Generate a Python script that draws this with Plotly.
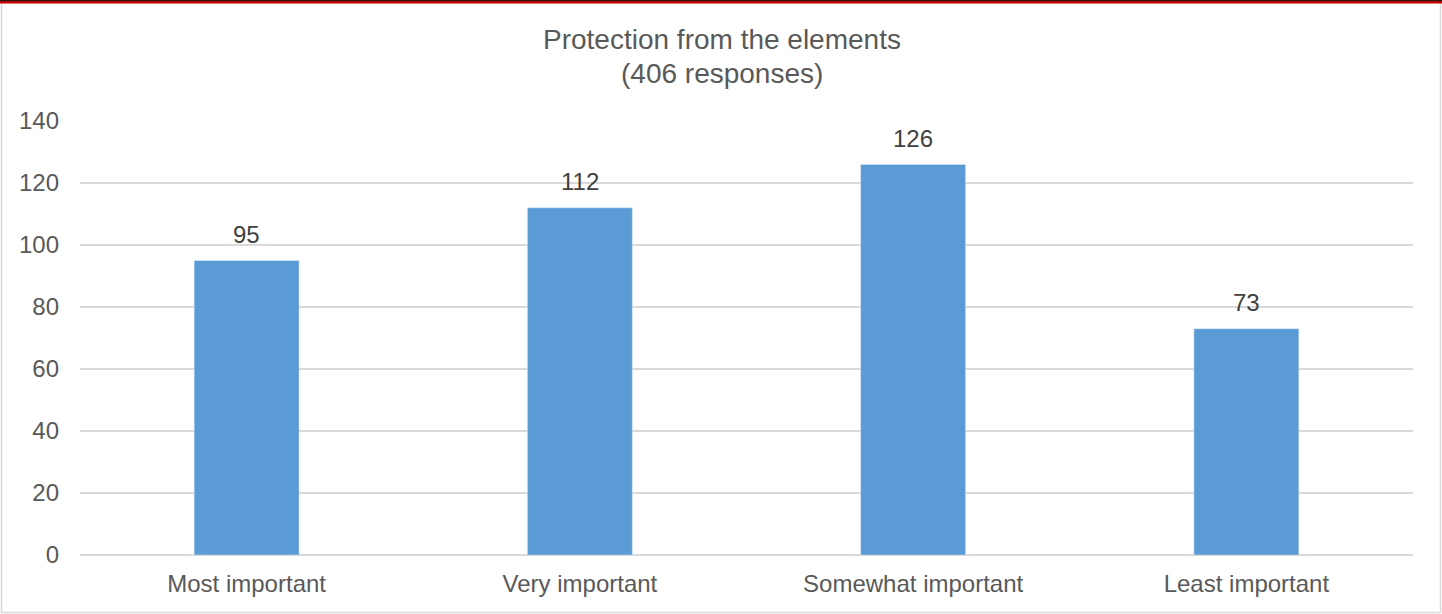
import plotly.graph_objects as go

categories = ["Most important", "Very important", "Somewhat important", "Least important"]
values = [95, 112, 126, 73]
title_line1 = "Protection from the elements"
title_line2 = "(406 responses)"
y_ticks = [0, 20, 40, 60, 80, 100, 120, 140]

W, H = 1442, 614
L, R, T, B = 80, 29, 121, 59
PW, PH = W - L - R, H - T - B

def px_x(px):
    return (px - L) / PW

def px_y(py):
    return (H - B - py) / PH

FONT = "Liberation Sans, Arial, sans-serif"
TXT = "#595959"

fig = go.Figure()
fig.add_trace(go.Bar(
    x=categories, y=values, marker_color="#5B9BD5", width=0.315,
    hoverinfo="x+y",
))

label_annotations = [
    dict(x=c, y=v, xref="x", yref="y", text=str(v), showarrow=False,
         xanchor="center", yanchor="middle", yshift=26,
         font=dict(family=FONT, size=24, color="#404040"))
    for c, v in zip(categories, values)
]

fig.update_layout(
    width=W, height=H,
    margin=dict(l=L, r=R, t=T, b=B),
    paper_bgcolor="white", plot_bgcolor="white",
    showlegend=False,
    font=dict(family=FONT, color=TXT),
    xaxis=dict(showgrid=False, showline=False, zeroline=False, ticks="",
               tickfont=dict(size=24, color=TXT), ticklabelstandoff=12),
    yaxis=dict(range=[0, 140], tickvals=y_ticks, showgrid=True, gridcolor="#D9D9D9",
               gridwidth=1.5, zeroline=True, zerolinecolor="#D9D9D9", zerolinewidth=1.5,
               showline=False, ticks="", tickfont=dict(size=24, color=TXT),
               ticklabelstandoff=20),
    shapes=[
        dict(type="rect", xref="paper", yref="paper", x0=px_x(1.5), x1=px_x(1440.5),
             y0=px_y(612.5), y1=px_y(1), line=dict(color="#D9D9D9", width=1.5),
             fillcolor="rgba(0,0,0,0)", layer="below"),
        dict(type="rect", xref="paper", yref="paper", x0=px_x(0), x1=px_x(1442),
             y0=px_y(3.5), y1=px_y(0), line=dict(width=0), fillcolor="#C00000"),
        dict(type="line", xref="paper", yref="paper", x0=px_x(0), x1=px_x(1442),
             y0=px_y(0.5), y1=px_y(0.5), line=dict(color="#1a1a1a", width=1)),
    ],
    annotations=[
        dict(text=title_line1, xref="paper", yref="paper", x=px_x(722), y=px_y(40),
             xanchor="center", yanchor="middle", showarrow=False,
             font=dict(family=FONT, size=28, color=TXT)),
        dict(text=title_line2, xref="paper", yref="paper", x=px_x(722), y=px_y(73),
             xanchor="center", yanchor="middle", showarrow=False,
             font=dict(family=FONT, size=28, color=TXT)),
    ] + label_annotations,
)

fig.write_html("out.html", config={"displayModeBar": False},
               post_script="document.body.style.margin='0';document.body.style.overflow='hidden';")
